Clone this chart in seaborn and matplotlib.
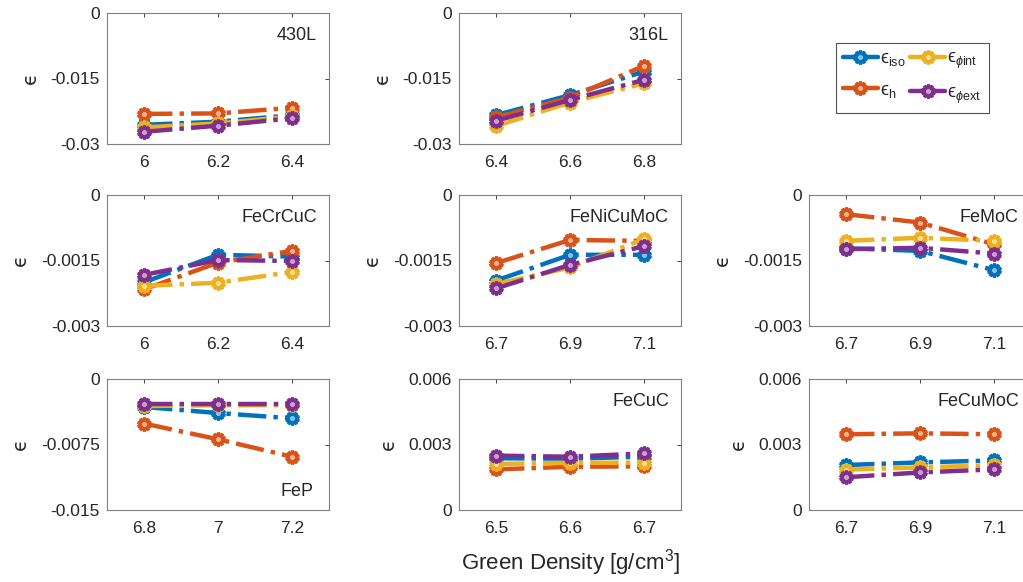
"""
Strain vs green density for nine powder grades (3x3 grid)
"""

import matplotlib
matplotlib.use('Agg')
import matplotlib.pyplot as plt
import matplotlib.colors as mcolors
import seaborn as sns
import pandas as pd
from matplotlib.lines import Line2D

# --- data ------------------------------------------------------------------
materials = ['430L', '316L', None,
             'FeCrCuC', 'FeNiCuMoC', 'FeMoC',
             'FeP', 'FeCuC', 'FeCuMoC']

density = {
    '430L':      [6.0, 6.2, 6.4],
    '316L':      [6.4, 6.6, 6.8],
    'FeCrCuC':   [6.0, 6.2, 6.4],
    'FeNiCuMoC': [6.7, 6.9, 7.1],
    'FeMoC':     [6.7, 6.9, 7.1],
    'FeP':       [6.8, 7.0, 7.2],
    'FeCuC':     [6.5, 6.6, 6.7],
    'FeCuMoC':   [6.7, 6.9, 7.1],
}

eps_iso = {
    '430L':      [-0.0256, -0.0249, -0.0234],
    '316L':      [-0.0234, -0.0188, -0.0134],
    'FeCrCuC':   [-0.00200, -0.00137, -0.00141],
    'FeNiCuMoC': [-0.00196, -0.00137, -0.00137],
    'FeMoC':     [-0.00122, -0.00128, -0.00172],
    'FeP':       [-0.0032, -0.0039, -0.0045],
    'FeCuC':     [0.00237, 0.00235, 0.00244],
    'FeCuMoC':   [0.00206, 0.00218, 0.00227],
}

eps_h = {
    '430L':      [-0.0231, -0.0230, -0.0217],
    '316L':      [-0.0239, -0.0194, -0.0121],
    'FeCrCuC':   [-0.00216, -0.00155, -0.00128],
    'FeNiCuMoC': [-0.00156, -0.00103, -0.00105],
    'FeMoC':     [-0.00044, -0.00063, -0.00113],
    'FeP':       [-0.0051, -0.0069, -0.0089],
    'FeCuC':     [0.00186, 0.00198, 0.00200],
    'FeCuMoC':   [0.00347, 0.00351, 0.00347],
}

eps_phi_int = {
    '430L':      [-0.0262, -0.0253, -0.0237],
    '316L':      [-0.0259, -0.0205, -0.0161],
    'FeCrCuC':   [-0.00208, -0.00201, -0.00176],
    'FeNiCuMoC': [-0.00204, -0.00166, -0.00101],
    'FeMoC':     [-0.00105, -0.00098, -0.00105],
    'FeP':       [-0.0031, -0.0030, -0.0030],
    'FeCuC':     [0.00211, 0.00216, 0.00217],
    'FeCuMoC':   [0.00185, 0.00195, 0.00205],
}

eps_phi_ext = {
    '430L':      [-0.0272, -0.0258, -0.0241],
    '316L':      [-0.0247, -0.0199, -0.0153],
    'FeCrCuC':   [-0.00183, -0.00149, -0.00151],
    'FeNiCuMoC': [-0.00214, -0.00160, -0.00117],
    'FeMoC':     [-0.00124, -0.00121, -0.00134],
    'FeP':       [-0.00286, -0.00286, -0.00286],
    'FeCuC':     [0.00249, 0.00244, 0.00259],
    'FeCuMoC':   [0.00150, 0.00172, 0.00186],
}

y_ticks = {
    '430L':      [-0.03, -0.015, 0],
    '316L':      [-0.03, -0.015, 0],
    'FeCrCuC':   [-0.003, -0.0015, 0],
    'FeNiCuMoC': [-0.003, -0.0015, 0],
    'FeMoC':     [-0.003, -0.0015, 0],
    'FeP':       [-0.015, -0.0075, 0],
    'FeCuC':     [0, 0.003, 0.006],
    'FeCuMoC':   [0, 0.003, 0.006],
}
y_ticklabels = {
    '430L':      ['-0.03', '-0.015', '0'],
    '316L':      ['-0.03', '-0.015', '0'],
    'FeCrCuC':   ['-0.003', '-0.0015', '0'],
    'FeNiCuMoC': ['-0.003', '-0.0015', '0'],
    'FeMoC':     ['-0.003', '-0.0015', '0'],
    'FeP':       ['-0.015', '-0.0075', '0'],
    'FeCuC':     ['0', '0.003', '0.006'],
    'FeCuMoC':   ['0', '0.003', '0.006'],
}

series = [
    ('iso', '\u03f5$_{\\mathrm{iso}}$', eps_iso, '#0072BD'),
    ('h', '\u03f5$_{\\mathrm{h}}$', eps_h, '#D95319'),
    ('phi_int', '\u03f5$_{\\phi\\mathrm{int}}$', eps_phi_int, '#EDB120'),
    ('phi_ext', '\u03f5$_{\\phi\\mathrm{ext}}$', eps_phi_ext, '#7E2F8E'),
]

# long table for seaborn
rows = []
for key, _, values, _ in series:
    for mat in density:
        for x, y in zip(density[mat], values[mat]):
            rows.append({'material': mat, 'series': key, 'density': x, 'eps': y})
df = pd.DataFrame(rows)


def tint(color, amount=0.55):
    r, g, b = mcolors.to_rgb(color)
    return (r + (1 - r) * amount, g + (1 - g) * amount, b + (1 - b) * amount)


# --- styling ----------------------------------------------------------------
sns.set_theme(style='white')
plt.rcParams['font.family'] = ['Liberation Sans', 'DejaVu Sans']
plt.rcParams['mathtext.fontset'] = 'custom'
plt.rcParams['mathtext.rm'] = 'Liberation Sans'
plt.rcParams['mathtext.it'] = 'Liberation Sans:italic'

MARKER = (10, 1, 0)   # gear-like star, close to MATLAB's look

fig = plt.figure(figsize=(10.23, 5.82), dpi=100)
W, H = 1023.0, 582.0
col_left = [107, 459, 809]
row_top = [13, 195, 379]
ax_w, ax_h = 222, 131

for i, mat in enumerate(materials):
    if mat is None:
        continue
    r, c = divmod(i, 3)
    ax = fig.add_axes([col_left[c] / W, 1 - (row_top[r] + ax_h) / H, ax_w / W, ax_h / H])
    sub = df[df['material'] == mat]
    for key, label, _, color in series:
        d = sub[sub['series'] == key]
        sns.lineplot(data=d, x='density', y='eps', ax=ax, color=color,
                     linestyle='-.', linewidth=3.2, marker=MARKER, markersize=10,
                     markerfacecolor=tint(color), markeredgecolor=color,
                     markeredgewidth=2.2, legend=False, errorbar=None)
    xs = density[mat]
    step = xs[1] - xs[0]
    ax.set_xlim(xs[0] - step / 2, xs[-1] + step / 2)
    ax.set_xticks(xs)
    ax.set_xticklabels([f'{x:g}' for x in xs])
    ax.set_ylim(min(y_ticks[mat]), max(y_ticks[mat]))
    ax.set_yticks(y_ticks[mat])
    ax.set_yticklabels(y_ticklabels[mat])
    ax.set_xlabel('')
    ax.set_ylabel('\u03f5', fontsize=14, labelpad=8, family=['DejaVu Sans'])
    ax.tick_params(direction='in', length=3, width=0.6, top=True, right=True,
                   labelsize=12.5, colors='#262626', pad=5)
    ax.tick_params(axis='x', pad=8)
    for sp in ax.spines.values():
        sp.set_color('#7f7f7f')
        sp.set_linewidth(0.8)
    if mat == 'FeP':
        ax.text(0.93, 0.14, mat, transform=ax.transAxes, ha='right', va='center',
                fontsize=13, color='#262626')
    else:
        ax.text(0.945, 0.83, mat, transform=ax.transAxes, ha='right', va='center',
                fontsize=13, color='#262626')

fig.text(570 / W, 1 - 563 / H, r'Green Density [g/cm$^3$]', ha='center', va='center',
         fontsize=16, color='#262626')

handles = [Line2D([0], [0], color=color, linestyle='-', linewidth=3.2, marker=MARKER,
                  markersize=10, markerfacecolor=tint(color), markeredgecolor=color,
                  markeredgewidth=2.2)
           for _, _, _, color in series]
labels = [label for _, label, _, _ in series]
leg = fig.legend(handles, labels, loc='upper left',
                 bbox_to_anchor=(836 / W, 1 - 43 / H), ncol=2, fontsize=13,
                 handlelength=1.9, handletextpad=0.15, columnspacing=0.25,
                 labelspacing=0.75, frameon=True, fancybox=False,
                 borderpad=0.4, borderaxespad=0)
leg.get_frame().set_edgecolor('#262626')
leg.get_frame().set_linewidth(0.8)

fig.savefig('out.png', dpi=100)
